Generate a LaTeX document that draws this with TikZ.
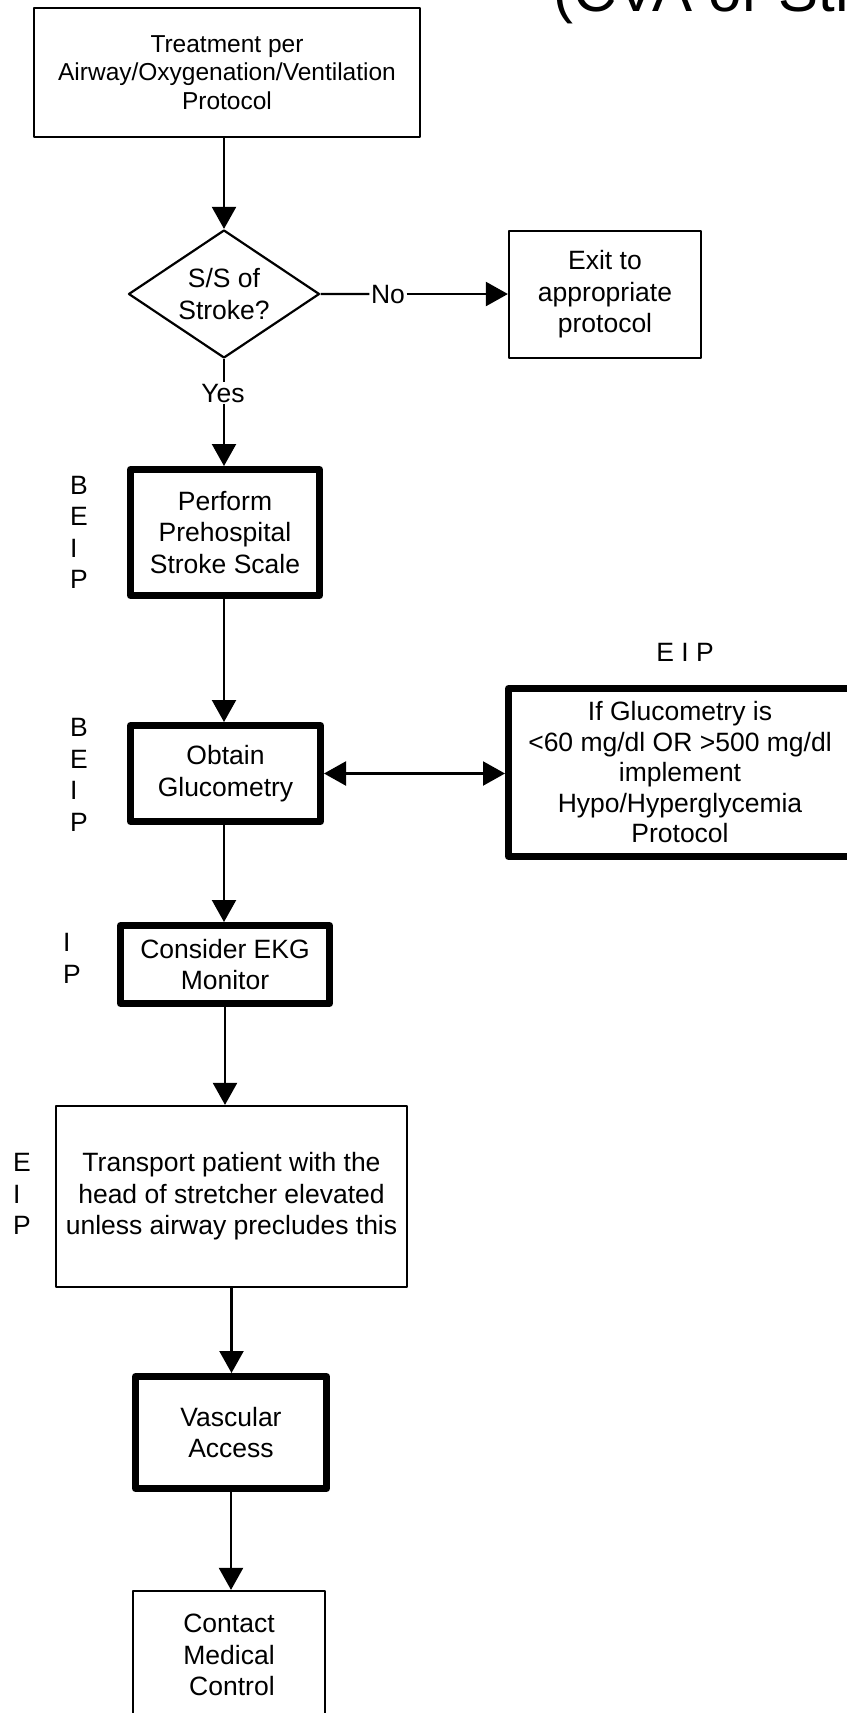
\documentclass[tikz,border=0pt]{standalone}
\usepackage{fontspec}
\setmainfont{Liberation Sans}
\usetikzlibrary{arrows.meta,shapes.geometric}

\begin{document}
\begin{tikzpicture}[x=1pt,y=-1pt,
  txt/.style={font=\fontsize{26.5}{31.5}\selectfont, align=center},
  thinbox/.style={draw, line width=2.2pt, line join=round, inner sep=0pt, txt},
  thickbox/.style={draw, line width=7pt, line join=round, inner sep=0pt, txt},
  tip/.style={-{Triangle[length=22pt,width=24pt]}},
  flow/.style={line width=2.2pt, tip},
  lvl/.style={font=\fontsize{26.5}{31.5}\selectfont, align=left, anchor=west, inner sep=0pt},
  lbl/.style={font=\fontsize{26.5}{31.5}\selectfont, fill=white, inner sep=1.5pt}
]
\useasboundingbox (0,0) rectangle (846,1713);

% heading, mostly above the page edge
\node[anchor=base west, inner sep=0pt, font=\fontsize{60}{62}\selectfont] (title) at (553,11) {(CVA or Stroke)};

% boxes
\node[thinbox, font=\fontsize{24.5}{28.5}\selectfont, minimum width=386pt, minimum height=129pt] (top) at (227,72.5)
  {Treatment per\\Airway/Oxygenation/Ventilation\\Protocol};
\node[diamond, shape aspect=1.5, draw, line width=2.2pt, line join=round, inner sep=0pt, txt,
      minimum width=191pt, minimum height=128pt] (dec) at (224,294) {S/S of\\Stroke?};
\node[thinbox, minimum width=192pt, minimum height=127pt] (exit) at (605,294.5)
  {Exit to\\appropriate\\protocol};
\node[thickbox, minimum width=189pt, minimum height=126pt] (pps) at (225,532.5)
  {Perform\\Prehospital\\Stroke Scale};
\node[thickbox, minimum width=190pt, minimum height=96pt] (glu) at (225.5,773.5)
  {Obtain\\Glucometry};
\node[thickbox, font=\fontsize{26.5}{30.5}\selectfont, minimum width=343pt, minimum height=168pt] (ifg) at (680,772.5)
  {If Glucometry is\\<60 mg/dl OR >500 mg/dl\\implement\\Hypo/Hyperglycemia\\Protocol};
\node[thickbox, minimum width=209pt, minimum height=78pt] (ekg) at (225,964.5)
  {Consider EKG\\Monitor};
\node[thinbox, minimum width=351pt, minimum height=181pt] (trn) at (231.5,1196.5)
  {Transport patient with the\\head of stretcher elevated\\unless airway precludes this};
\node[thickbox, minimum width=191pt, minimum height=112pt] (vas) at (231,1432.5)
  {Vascular\\Access};
\node[thinbox, align=right, minimum width=192pt, minimum height=128pt] (med) at (229,1655)
  {Contact\\Medical\\Control};

% provider level letters
\node[lvl] (lv1) at (70,532.3) {B\\E\\I\\P};
\node[lvl] (lv2) at (70,775) {B\\E\\I\\P};
\node[lvl] (lv3) at (63,958.5) {I\\P};
\node[lvl] (lv4) at (13,1194.3) {E\\I\\P};
\node[font=\fontsize{26.5}{31.5}\selectfont, inner sep=0pt] (lv5) at (685,652) {E I P};

% branch labels
\node[lbl, anchor=base] (no) at (388,303) {No};
\node[lbl, anchor=base] (yes) at (223,402) {Yes};

% connectors
\draw[flow] (dec.north |- top.south) -- (dec.north);
\draw[line width=2.2pt] (dec.east) -- (no.west);
\draw[flow] (no.east) -- (exit.west |- no.east);
\draw[line width=2.2pt] (dec.south) -- (yes.north -| dec.south);
\draw[flow] (yes.south -| dec.south) -- (pps.north -| dec.south);
\draw[flow] (dec.south |- pps.south) -- (dec.south |- glu.north);
\draw[line width=2.2pt, {Triangle[length=22pt,width=24pt]}-{Triangle[length=22pt,width=24pt]}]
  (glu.east) -- (glu.east -| ifg.west);
\draw[flow] (dec.south |- glu.south) -- (dec.south |- ekg.north);
\draw[flow] (ekg.south) -- (ekg.south |- trn.north);
\draw[flow] (trn.south) -- (trn.south |- vas.north);
\draw[flow] (vas.south) -- (vas.south |- med.north);
\end{tikzpicture}
\end{document}
